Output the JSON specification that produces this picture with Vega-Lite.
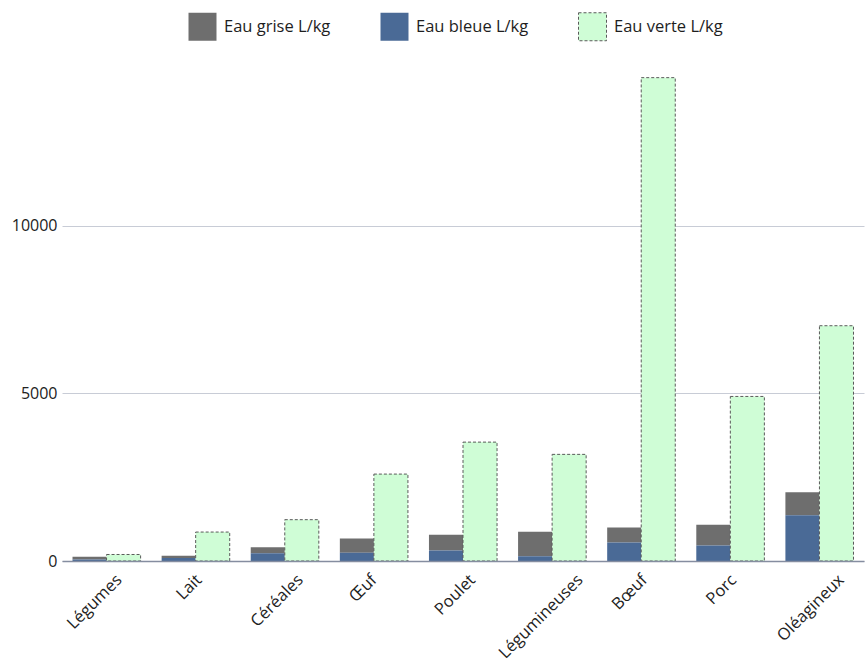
{
  "$schema": "https://vega.github.io/schema/vega-lite/v6.json",
  "width": 802,
  "height": 503,
  "autosize": "none",
  "padding": {"left": 62, "top": 58, "right": 2, "bottom": 100},
  "background": "white",
  "config": {"view": {"stroke": null}, "font": "Open Sans"},
  "data": {
    "values": [
      {"aliment": "Légumes", "Eau grise L/kg": 85, "Eau bleue L/kg": 43, "Eau verte L/kg": 194},
      {"aliment": "Lait", "Eau grise L/kg": 72, "Eau bleue L/kg": 86, "Eau verte L/kg": 863},
      {"aliment": "Céréales", "Eau grise L/kg": 184, "Eau bleue L/kg": 228, "Eau verte L/kg": 1232},
      {"aliment": "Œuf", "Eau grise L/kg": 429, "Eau bleue L/kg": 244, "Eau verte L/kg": 2592},
      {"aliment": "Poulet", "Eau grise L/kg": 467, "Eau bleue L/kg": 313, "Eau verte L/kg": 3545},
      {"aliment": "Légumineuses", "Eau grise L/kg": 734, "Eau bleue L/kg": 141, "Eau verte L/kg": 3180},
      {"aliment": "Bœuf", "Eau grise L/kg": 451, "Eau bleue L/kg": 550, "Eau verte L/kg": 14414},
      {"aliment": "Porc", "Eau grise L/kg": 622, "Eau bleue L/kg": 459, "Eau verte L/kg": 4907},
      {"aliment": "Oléagineux", "Eau grise L/kg": 680, "Eau bleue L/kg": 1367, "Eau verte L/kg": 7016}
    ]
  },
  "transform": [
    {"fold": ["Eau grise L/kg", "Eau bleue L/kg", "Eau verte L/kg"], "as": ["type", "valeur"]},
    {"calculate": "datum.type === 'Eau verte L/kg' ? 'verte' : 'bleue et grise'", "as": "colonne"}
  ],
  "encoding": {
    "x": {
      "field": "aliment",
      "type": "nominal",
      "sort": null,
      "scale": {"paddingInner": 0.236, "paddingOuter": 0.118},
      "axis": {
        "title": null,
        "labelAngle": -45,
        "labelAlign": "right",
        "labelBaseline": "middle",
        "labelFontSize": 16.5,
        "labelColor": "#222222",
        "labelPadding": 16,
        "labelOffset": {"expr": "3.1*length(datum.label) - 9"},
        "ticks": false,
        "grid": false,
        "domainColor": "#858da0",
        "domainWidth": 1.5,
        "zindex": 1
      }
    },
    "xOffset": {
      "field": "colonne",
      "type": "nominal",
      "scale": {"domain": ["bleue et grise", "verte"], "paddingInner": 0, "paddingOuter": 0}
    },
    "y": {
      "field": "valeur",
      "type": "quantitative",
      "scale": {"domain": [0, 15000], "nice": false},
      "axis": {
        "title": null,
        "values": [0, 5000, 10000],
        "format": "d",
        "ticks": false,
        "domain": false,
        "labelFontSize": 16,
        "labelColor": "#222222",
        "labelPadding": 5,
        "gridColor": "#c8ccd6",
        "gridWidth": 1
      }
    },
    "color": {
      "field": "type",
      "type": "nominal",
      "scale": {
        "domain": ["Eau grise L/kg", "Eau bleue L/kg", "Eau verte L/kg"],
        "range": ["#6e6e6e", "#4a6a96", "#cffdd6"]
      },
      "legend": {
        "orient": "none",
        "legendX": 126,
        "legendY": -46,
        "direction": "horizontal",
        "title": null,
        "symbolType": "square",
        "symbolSize": 784,
        "symbolStrokeWidth": 1,
        "symbolOpacity": 1,
        "labelFontSize": 16.5,
        "labelColor": "#1e1e1e",
        "labelOffset": 7,
        "columnPadding": 47,
        "padding": 0,
        "encode": {
          "symbols": {
            "update": {
              "stroke": {"signal": "datum.label === 'Eau verte L/kg' ? '#5a5a5a' : 'transparent'"},
              "strokeDash": {"signal": "datum.label === 'Eau verte L/kg' ? [3,2] : [1,0]"}
            }
          }
        }
      }
    }
  },
  "layer": [
    {
      "transform": [{"filter": "datum.colonne !== 'verte'"}],
      "mark": {"type": "bar"},
      "encoding": {"order": {"field": "type", "sort": "ascending"}}
    },
    {
      "transform": [{"filter": "datum.colonne === 'verte'"}],
      "mark": {"type": "bar", "stroke": "#5a5a5a", "strokeWidth": 1, "strokeDash": [3, 2]}
    }
  ]
}
